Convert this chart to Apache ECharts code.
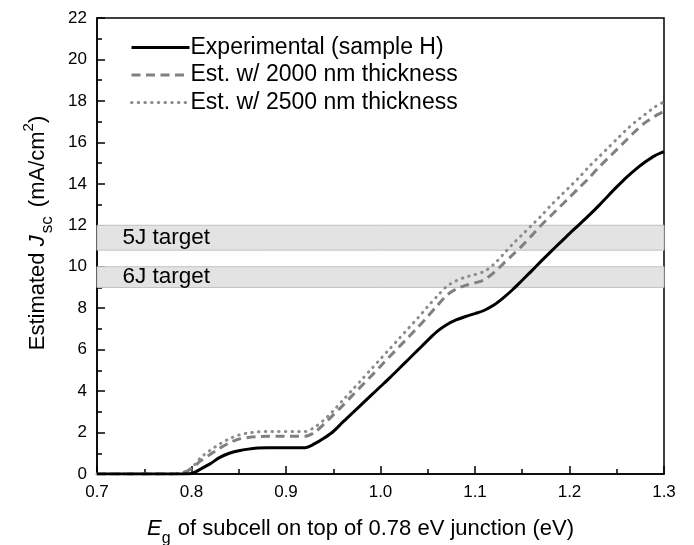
<!DOCTYPE html>
<html>
<head>
<meta charset="utf-8">
<script src="https://cdn.jsdelivr.net/npm/echarts@6/dist/echarts.min.js"></script>
<style>
  html, body { margin: 0; padding: 0; background: #fff; }
  #chart { width: 694px; height: 545px; }
</style>
</head>
<body>
<div id="chart"></div>
<script>
// Band gap of the top subcell (eV)
const eg = [0.70, 0.71, 0.72, 0.73, 0.74, 0.75, 0.76, 0.77, 0.78, 0.79,
            0.80, 0.81, 0.82, 0.83, 0.84, 0.85, 0.86, 0.87, 0.88, 0.89,
            0.90, 0.91, 0.92, 0.93, 0.94, 0.95, 0.96, 0.97, 0.98, 0.99,
            1.00, 1.01, 1.02, 1.03, 1.04, 1.05, 1.06, 1.07, 1.08, 1.09,
            1.10, 1.11, 1.12, 1.13, 1.14, 1.15, 1.16, 1.17, 1.18, 1.19,
            1.20, 1.21, 1.22, 1.23, 1.24, 1.25, 1.26, 1.27, 1.28, 1.29, 1.30];

// Estimated Jsc (mA/cm2)
const experimental = [0, 0, 0, 0, 0, 0, 0, 0, 0, 0,
            0.02, 0.25, 0.50, 0.80, 1.00, 1.12, 1.20, 1.25, 1.27, 1.27,
            1.27, 1.27, 1.27, 1.45, 1.72, 2.05, 2.50, 2.93, 3.36, 3.79,
            4.22, 4.65, 5.10, 5.55, 6.00, 6.45, 6.88, 7.20, 7.43, 7.60,
            7.74, 7.90, 8.15, 8.50, 8.90, 9.35, 9.80, 10.27, 10.72, 11.16,
            11.60, 12.02, 12.45, 12.90, 13.38, 13.85, 14.30, 14.70, 15.05, 15.35, 15.55];

const est2000 = [0, 0, 0, 0, 0, 0, 0, 0, 0, 0.05,
            0.25, 0.65, 0.95, 1.25, 1.50, 1.68, 1.76, 1.80, 1.82, 1.82,
            1.82, 1.82, 1.82, 2.00, 2.40, 2.85, 3.30, 3.78, 4.25, 4.72,
            5.20, 5.68, 6.15, 6.62, 7.10, 7.60, 8.12, 8.62, 8.92, 9.10,
            9.22, 9.38, 9.72, 10.15, 10.58, 11.02, 11.50, 12.00, 12.45, 12.90,
            13.35, 13.80, 14.25, 14.75, 15.20, 15.65, 16.10, 16.55, 16.95, 17.25, 17.50];

const est2500 = [0, 0, 0, 0, 0, 0, 0, 0, 0, 0.05,
            0.30, 0.80, 1.15, 1.45, 1.70, 1.88, 1.98, 2.03, 2.05, 2.05,
            2.05, 2.05, 2.05, 2.25, 2.60, 3.05, 3.55, 4.05, 4.55, 5.05,
            5.55, 6.05, 6.55, 7.05, 7.55, 8.08, 8.58, 9.05, 9.32, 9.50,
            9.62, 9.78, 10.12, 10.60, 11.10, 11.55, 12.00, 12.45, 12.95, 13.40,
            13.85, 14.30, 14.80, 15.25, 15.70, 16.15, 16.60, 17.00, 17.35, 17.70, 17.95];

// Target bands [low, high]
const target5J = [10.8, 12.0];
const target6J = [9.0, 10.0];

const seriesNames = ['Experimental (sample H)', 'Est. w/ 2000 nm thickness', 'Est. w/ 2500 nm thickness'];

const pairs = vals => eg.map((x, i) => [x, vals[i]]);

const FONT = '"Liberation Sans", Arial, sans-serif';

const chart = echarts.init(document.getElementById('chart'), null, { renderer: 'canvas' });

chart.setOption({
  animation: false,
  backgroundColor: '#ffffff',
  textStyle: { fontFamily: FONT, color: '#000' },
  grid: {
    left: 97, right: 30, top: 18, bottom: 71,
    outerBoundsMode: 'none', containLabel: false,
    show: true, borderColor: '#000', borderWidth: 1.5, backgroundColor: 'transparent'
  },
  legend: {
    left: 130, top: 36, orient: 'vertical', padding: 0,
    itemWidth: 58, itemHeight: 14, itemGap: 4.5,
    data: seriesNames,
    itemStyle: { color: 'transparent', borderWidth: 0 },
    lineStyle: { width: 3 },
    textStyle: { fontSize: 23, lineHeight: 23, color: '#000', fontFamily: FONT, padding: [0, 0, 0, -4] }
  },
  xAxis: {
    type: 'value', min: 0.7, max: 1.3, interval: 0.1,
    name: '{i|E}{sub|g}{t| of subcell on top of 0.78 eV junction (eV)}',
    nameLocation: 'middle', nameGap: 38,
    nameTextStyle: {
      padding: [0, 40, 0, 0],
      rich: {
        i: { fontSize: 22, fontStyle: 'italic', fontFamily: FONT, color: '#000', lineHeight: 28, verticalAlign: 'bottom' },
        sub: { fontSize: 16, fontFamily: FONT, color: '#000', lineHeight: 28, verticalAlign: 'bottom', padding: [0, 1, -7, 0] },
        t: { fontSize: 22, fontFamily: FONT, color: '#000', lineHeight: 28, verticalAlign: 'bottom' }
      }
    },
    axisLine: { lineStyle: { color: '#000', width: 1.5 } },
    axisTick: { inside: true, length: 8, lineStyle: { color: '#000', width: 1.5 } },
    minorTick: { show: true, splitNumber: 2, length: 5, lineStyle: { color: '#000', width: 1.5 } },
    splitLine: { show: false },
    axisLabel: { fontSize: 17, color: '#000', margin: 10, fontFamily: FONT, formatter: v => v.toFixed(1) }
  },
  yAxis: {
    type: 'value', min: 0, max: 22, interval: 2,
    name: '{t|Estimated }{i|J}{sub|sc}{t| (mA/cm}{sup|2}{t|)}',
    nameLocation: 'middle', nameGap: 48, nameRotate: 90,
    nameTextStyle: {
      padding: [0, 0, 0, 26],
      rich: {
        t: { fontSize: 22, fontFamily: FONT, color: '#000', lineHeight: 28, verticalAlign: 'bottom' },
        i: { fontSize: 22, fontStyle: 'italic', fontFamily: FONT, color: '#000', lineHeight: 28, verticalAlign: 'bottom' },
        sub: { fontSize: 17, fontFamily: FONT, color: '#000', lineHeight: 28, verticalAlign: 'bottom', padding: [0, 3, -7, 2] },
        sup: { fontSize: 15, fontFamily: FONT, color: '#000', lineHeight: 28, verticalAlign: 'top' }
      }
    },
    axisLine: { lineStyle: { color: '#000', width: 1.5 } },
    axisTick: { inside: true, length: 8, lineStyle: { color: '#000', width: 1.5 } },
    minorTick: { show: true, splitNumber: 2, length: 5, lineStyle: { color: '#000', width: 1.5 } },
    splitLine: { show: false },
    axisLabel: { fontSize: 17, color: '#000', margin: 10, fontFamily: FONT }
  },
  series: [
    {
      name: 'targets', type: 'line', data: [], z: 1, silent: true,
      markArea: {
        silent: true,
        itemStyle: { color: '#e3e3e3', borderColor: '#c2c2c2', borderWidth: 1 },
        label: { show: true, position: 'insideLeft', distance: 26, fontSize: 22.5, color: '#000', fontFamily: FONT },
        data: [
          [{ name: '5J target', yAxis: target5J[0], xAxis: 'min' }, { yAxis: target5J[1], xAxis: 'max' }],
          [{ name: '6J target', yAxis: target6J[0], xAxis: 'min' }, { yAxis: target6J[1], xAxis: 'max' }]
        ]
      }
    },
    {
      name: seriesNames[2], type: 'line', data: pairs(est2500), z: 3,
      showSymbol: false, symbol: 'none', smooth: 0.3,
      lineStyle: { color: '#8c8c8c', width: 3, type: [0.5, 6.2], cap: 'round' },
      itemStyle: { color: '#8c8c8c' }
    },
    {
      name: seriesNames[1], type: 'line', data: pairs(est2000), z: 4,
      showSymbol: false, symbol: 'none', smooth: 0.3,
      lineStyle: { color: '#808080', width: 3, type: [9, 5.5] },
      itemStyle: { color: '#808080' }
    },
    {
      name: seriesNames[0], type: 'line', data: pairs(experimental), z: 5,
      showSymbol: false, symbol: 'none', smooth: 0.3,
      lineStyle: { color: '#000', width: 3 },
      itemStyle: { color: '#000' }
    }
  ]
});
</script>
</body>
</html>
